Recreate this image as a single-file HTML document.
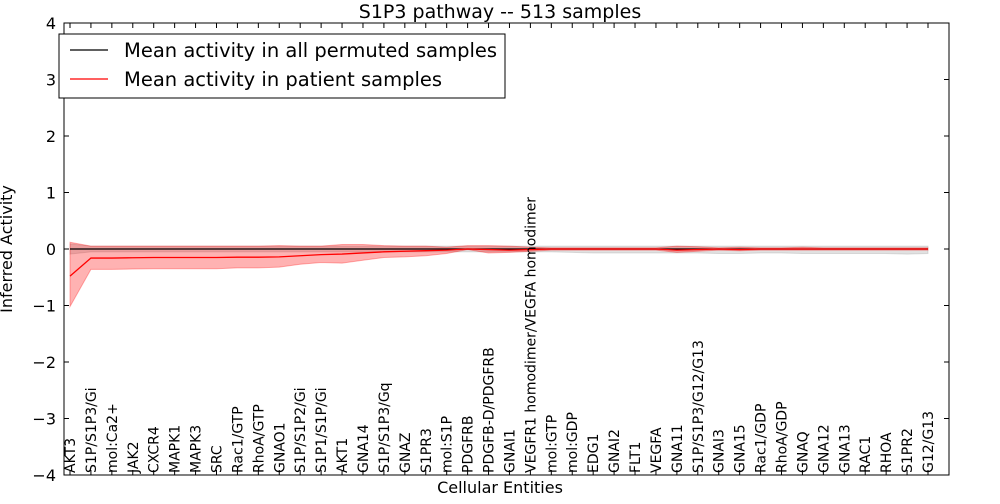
<!DOCTYPE html>
<html><head><meta charset="utf-8"><style>
body{margin:0;background:#fff;font-family:"DejaVu Sans",sans-serif}
svg text{font-family:"DejaVu Sans","Liberation Sans",sans-serif}
</style></head><body>
<svg id="chart" width="1000" height="500" xmlns="http://www.w3.org/2000/svg"></svg>
<script>
const categories=["AKT3","S1P/S1P3/Gi","mol:Ca2+","JAK2","CXCR4","MAPK1","MAPK3","SRC","Rac1/GTP","RhoA/GTP","GNAO1","S1P/S1P2/Gi","S1P1/S1P/Gi","AKT1","GNA14","S1P/S1P3/Gq","GNAZ","S1PR3","mol:S1P","PDGFRB","PDGFB-D/PDGFRB","GNAI1","VEGFR1 homodimer/VEGFA homodimer","mol:GTP","mol:GDP","EDG1","GNAI2","FLT1","VEGFA","GNA11","S1P/S1P3/G12/G13","GNAI3","GNA15","Rac1/GDP","RhoA/GDP","GNAQ","GNA12","GNA13","RAC1","RHOA","S1PR2","G12/G13"];
const patientMean=[-0.48,-0.16,-0.16,-0.155,-0.15,-0.15,-0.15,-0.15,-0.145,-0.145,-0.14,-0.12,-0.1,-0.09,-0.07,-0.05,-0.04,-0.03,-0.02,0,-0.01,-0.02,-0.01,0,0,0,0,0,0,-0.02,-0.01,0,-0.01,0,0,0,0,0,0,0,0,0];
const patientLow=[-1.02,-0.36,-0.36,-0.355,-0.35,-0.35,-0.35,-0.35,-0.335,-0.335,-0.32,-0.27,-0.24,-0.25,-0.2,-0.15,-0.14,-0.12,-0.08,-0.01,-0.07,-0.06,-0.04,-0.02,-0.02,-0.02,-0.02,-0.02,-0.02,-0.06,-0.04,-0.02,-0.03,-0.02,-0.02,-0.02,-0.02,-0.02,-0.02,-0.02,-0.02,-0.02];
const patientHigh=[0.12,0.05,0.05,0.05,0.05,0.05,0.05,0.05,0.05,0.05,0.06,0.05,0.05,0.08,0.08,0.06,0.05,0.05,0.03,0.06,0.06,0.05,0.03,0.02,0.02,0.02,0.02,0.02,0.02,0.05,0.04,0.02,0.03,0.02,0.02,0.03,0.02,0.02,0.02,0.02,0.02,0.02];
const permMean=[0,0,0,0,0,0,0,0,0,0,0,0,0,0,0,0,0,0,0,0,0,0,0,0,0,0,0,0,0,0,0,0,0,0,0,0,0,0,0,0,0,0];
const permLow=[-0.09,-0.05,-0.05,-0.05,-0.05,-0.05,-0.05,-0.05,-0.05,-0.05,-0.05,-0.05,-0.05,-0.05,-0.05,-0.05,-0.05,-0.05,-0.05,-0.05,-0.05,-0.05,-0.05,-0.05,-0.06,-0.07,-0.07,-0.07,-0.07,-0.07,-0.07,-0.08,-0.08,-0.07,-0.07,-0.08,-0.08,-0.08,-0.08,-0.08,-0.09,-0.08];
const permHigh=[0.09,0.05,0.05,0.05,0.05,0.05,0.05,0.05,0.05,0.05,0.05,0.05,0.05,0.05,0.05,0.05,0.05,0.05,0.05,0.05,0.05,0.05,0.05,0.05,0.05,0.05,0.05,0.05,0.05,0.05,0.05,0.05,0.05,0.05,0.05,0.05,0.05,0.05,0.05,0.05,0.05,0.05];
const yTicks=[-4,-3,-2,-1,0,1,2,3,4];
const NS="http://www.w3.org/2000/svg",svg=document.getElementById("chart");
const L=64,R=949,T=23,B=475;
const xs=i=>70+i*(858/41), ys=v=>T+(4-v)*(B-T)/8;
function el(t,a,p){const e=document.createElementNS(NS,t);for(const k in a)e.setAttribute(k,a[k]);(p||svg).appendChild(e);return e;}
function band(lo,hi,fill,op,name){let d="M"+lo.map((v,i)=>xs(i)+","+ys(hi[i])).join("L");for(let i=lo.length-1;i>=0;i--)d+="L"+xs(i)+","+ys(lo[i]);
const p=el("path",{d:d+"Z",fill:fill,"fill-opacity":op,stroke:fill,"stroke-opacity":op});

}
function line(v,c,name){const p=el("polyline",{points:v.map((y,i)=>xs(i)+","+ys(y)).join(" "),fill:"none",stroke:c,"stroke-width":1.3});

}
band(permLow,permHigh,"#888",0.25,"permuted-band");
band(patientLow,patientHigh,"#ff0000",0.3,"patient-band");
line(permMean,"#000","permuted-mean-line");
line(patientMean,"#ff0000","patient-mean-line");
const ax=el("rect",{x:L,y:T,width:R-L,height:B-T,fill:"none",stroke:"#000"});

yTicks.forEach(v=>{const y=ys(v);el("line",{x1:L,x2:L+5,y1:y,y2:y,stroke:"#000"});el("line",{x1:R-5,x2:R,y1:y,y2:y,stroke:"#000"});
const t=el("text",{x:L-8,y:y+6,"text-anchor":"end","font-size":16});t.textContent=(v<0?"\u2212":"")+Math.abs(v);
});
categories.forEach((c,i)=>{const x=xs(i);el("line",{x1:x,x2:x,y1:B,y2:B-5,stroke:"#000"});el("line",{x1:x,x2:x,y1:T,y2:T+5,stroke:"#000"});
const t=el("text",{transform:`translate(${x+5},${B-2}) rotate(-90)`,"font-size":14});t.textContent=c;
});
let t=el("text",{x:500,y:18,"text-anchor":"middle","font-size":19});t.textContent="S1P3 pathway -- 513 samples";

t=el("text",{x:500,y:493,"text-anchor":"middle","font-size":16});t.textContent="Cellular Entities";

t=el("text",{transform:"translate(12,249) rotate(-90)","text-anchor":"middle","font-size":16});t.textContent="Inferred Activity";

const lg=el("g",{});
el("rect",{x:59,y:34,width:446,height:64,fill:"#fff",stroke:"#000"},lg);
el("line",{x1:70,x2:108,y1:50,y2:50,stroke:"#000","stroke-width":1.3},lg);
el("line",{x1:70,x2:108,y1:79,y2:79,stroke:"#ff0000","stroke-width":1.3},lg);
t=el("text",{x:124,y:57,"font-size":19.5},lg);t.textContent="Mean activity in all permuted samples";

t=el("text",{x:124,y:86,"font-size":19.5},lg);t.textContent="Mean activity in patient samples";

</script></body></html>
